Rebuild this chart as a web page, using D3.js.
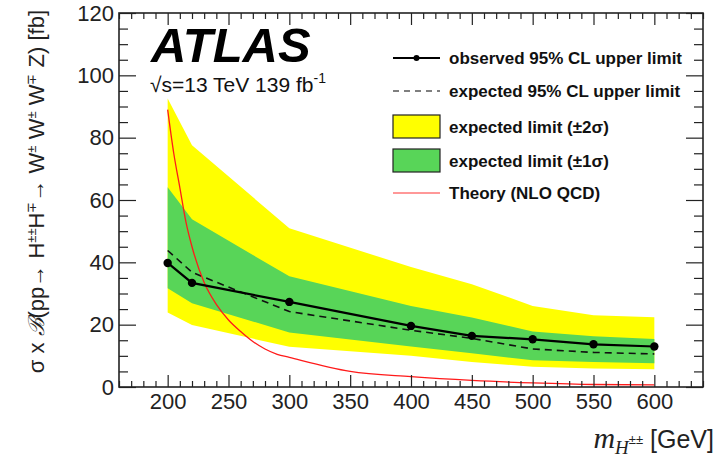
<!DOCTYPE html>
<meta charset="utf-8">
<title>Upper limits on H++ H-- cross section</title>
<style>
body { margin: 0; background: #fff; }
.axis text { font: 22px "Liberation Sans", Arial, sans-serif; fill: #222; }
.axis line, .axis path { stroke: #222; }
.legend text { font: bold 17px "Liberation Sans", Arial, sans-serif; fill: #111; }
.axislabel { font: 22px "Liberation Sans", Arial, sans-serif; fill: #222; }
</style>
<svg class="chart"></svg>
<script src="https://d3js.org/d3.v7.min.js"></script>
<script>

// mass points (GeV)
var masses = [200, 220, 300, 400, 450, 500, 550, 600];
// limits in fb
var observed = [39.8, 33.4, 27.3, 19.6, 16.4, 15.3, 13.7, 13.0];
var expected = [43.8, 36.8, 24.2, 18.2, 15.6, 12.2, 11.1, 10.6];
var minus2 = [23.9, 19.9, 12.9, 10.0, 8.0, 6.5, 5.9, 5.7];
var minus1 = [31.7, 26.9, 17.5, 13.0, 10.8, 8.6, 8.0, 7.6];
var plus1 = [64.1, 53.8, 35.5, 26.0, 22.3, 17.8, 16.3, 15.4];
var plus2 = [92.6, 77.6, 50.9, 38.5, 33.0, 26.0, 23.0, 22.4];
// theory curve
var theoryMass = [200, 205, 210, 215, 220, 230, 240, 250, 260, 270, 280, 290, 300, 350, 400, 450, 500, 550, 600];
var theoryXs = [89, 75, 64, 53, 45, 33.5, 26.5, 21.5, 17.8, 14.6, 12.2, 10.5, 9.5, 5.0, 3.3, 2.1, 1.3, 0.8, 0.7];

var xTicks = [200, 250, 300, 350, 400, 450, 500, 550, 600];
var yTicks = [0, 20, 40, 60, 80, 100, 120];

var margin = {top: 13, right: 22, bottom: 71, left: 119},
    width = 725 - margin.left - margin.right,
    height = 458 - margin.top - margin.bottom;

var svg = d3.select(".chart")
    .attr("width", 725)
    .attr("height", 458);

var chart = svg.append("g")
    .attr("transform", "translate(" + margin.left + "," + margin.top + ")");

var x = d3.scaleLinear().domain([160, 640]).range([0, width]);
var y = d3.scaleLinear().domain([0, 120]).range([height, 0]);

var rows = masses.map(function(m, i) {
  return {m: m, obs: observed[i], exp: expected[i], m2: minus2[i], m1: minus1[i], p1: plus1[i], p2: plus2[i]};
});

var green = "#58d558", yellow = "#ffff00";

chart.append("path")
    .datum(rows)
    .attr("fill", yellow)
    .attr("d", d3.area()
        .x(function(d) { return x(d.m); })
        .y0(function(d) { return y(d.m2); })
        .y1(function(d) { return y(d.p2); }));

chart.append("path")
    .datum(rows)
    .attr("fill", green)
    .attr("d", d3.area()
        .x(function(d) { return x(d.m); })
        .y0(function(d) { return y(d.m1); })
        .y1(function(d) { return y(d.p1); }));

chart.append("path")
    .datum(rows)
    .attr("fill", "none")
    .attr("stroke", "#111")
    .attr("stroke-width", 1.6)
    .attr("stroke-dasharray", "7,5")
    .attr("d", d3.line()
        .x(function(d) { return x(d.m); })
        .y(function(d) { return y(d.exp); }));

chart.append("path")
    .datum(theoryMass)
    .attr("fill", "none")
    .attr("stroke", "#ff1a1a")
    .attr("stroke-width", 1.3)
    .attr("d", d3.line()
        .curve(d3.curveMonotoneX)
        .x(function(d) { return x(d); })
        .y(function(d, i) { return y(theoryXs[i]); }));

chart.append("path")
    .datum(rows)
    .attr("fill", "none")
    .attr("stroke", "#000")
    .attr("stroke-width", 2.2)
    .attr("d", d3.line()
        .x(function(d) { return x(d.m); })
        .y(function(d) { return y(d.obs); }));

chart.selectAll(".obs")
    .data(rows)
    .enter().append("circle")
    .attr("class", "obs")
    .attr("cx", function(d) { return x(d.m); })
    .attr("cy", function(d) { return y(d.obs); })
    .attr("r", 4.2)
    .attr("fill", "#000");

// axes, ROOT style: ticks pointing inwards on all four sides
var xMinor = d3.range(160, 641, 10).filter(function(v) { return v % 50 !== 0; });
var yMinor = d3.range(0, 121, 5).filter(function(v) { return v % 20 !== 0; });

function addAxis(axis, tr) {
  return chart.append("g").attr("class", "axis").attr("transform", tr).call(axis);
}

addAxis(d3.axisBottom(x).tickValues(xMinor).tickSize(-6).tickFormat(""), "translate(0," + height + ")");
addAxis(d3.axisBottom(x).tickValues(xTicks).tickSize(-12).tickPadding(6)
    .tickFormat(d3.format("d")), "translate(0," + height + ")")
    .selectAll("text").attr("dy", "0.72em");
addAxis(d3.axisTop(x).tickValues(xMinor).tickSize(-6).tickFormat(""), "translate(0,0)");
addAxis(d3.axisTop(x).tickValues(xTicks).tickSize(-12).tickFormat(""), "translate(0,0)");

addAxis(d3.axisLeft(y).tickValues(yMinor).tickSize(-9).tickFormat(""), "translate(0,0)");
addAxis(d3.axisLeft(y).tickValues(yTicks).tickSize(-17).tickPadding(5)
    .tickFormat(d3.format("d")), "translate(0,0)");
addAxis(d3.axisRight(y).tickValues(yMinor).tickSize(-9).tickFormat(""), "translate(" + width + ",0)");
addAxis(d3.axisRight(y).tickValues(yTicks).tickSize(-17).tickFormat(""), "translate(" + width + ",0)");

chart.selectAll(".axis path").remove();
chart.selectAll(".axis line").attr("stroke-width", 1.2);

chart.append("rect")
    .attr("width", width)
    .attr("height", height)
    .attr("fill", "none")
    .attr("stroke", "#222")
    .attr("stroke-width", 1.6);

// ATLAS label
svg.append("text")
    .attr("x", 151)
    .attr("y", 62)
    .style("font", "italic bold 49px 'Liberation Sans', Arial, sans-serif")
    .text("ATLAS");

var lumi = svg.append("text")
    .attr("x", 150)
    .attr("y", 92)
    .style("font", "21px 'Liberation Sans', Arial, sans-serif")
    .style("fill", "#111");
lumi.append("tspan").text("√s=13 TeV 139 fb");
lumi.append("tspan").attr("dy", -9).style("font-size", "14px").text("-1");

// legend
var legend = svg.append("g").attr("class", "legend");
var lx1 = 393, lx2 = 440, tx = 449;

legend.append("line").attr("x1", lx1).attr("x2", lx2).attr("y1", 58).attr("y2", 58)
    .attr("stroke", "#000").attr("stroke-width", 1.8);
legend.append("circle").attr("cx", (lx1 + lx2) / 2).attr("cy", 58).attr("r", 3).attr("fill", "#000");
legend.append("text").attr("x", tx).attr("y", 58).attr("dy", "0.36em").text("observed 95% CL upper limit");

legend.append("line").attr("x1", lx1).attr("x2", lx2).attr("y1", 91).attr("y2", 91)
    .attr("stroke", "#000").attr("stroke-width", 1.2).attr("stroke-dasharray", "6,5");
legend.append("text").attr("x", tx).attr("y", 91).attr("dy", "0.36em").text("expected 95% CL upper limit");

legend.append("rect").attr("x", lx1).attr("y", 115).attr("width", lx2 - lx1).attr("height", 23)
    .attr("fill", yellow).attr("stroke", "#222").attr("stroke-width", 1.2);
legend.append("text").attr("x", tx).attr("y", 126.5).attr("dy", "0.36em").text("expected limit (±2σ)");

legend.append("rect").attr("x", lx1).attr("y", 149).attr("width", lx2 - lx1).attr("height", 23)
    .attr("fill", green).attr("stroke", "#222").attr("stroke-width", 1.2);
legend.append("text").attr("x", tx).attr("y", 160.5).attr("dy", "0.36em").text("expected limit (±1σ)");

legend.append("line").attr("x1", lx1).attr("x2", lx2).attr("y1", 193).attr("y2", 193)
    .attr("stroke", "#ff3333").attr("stroke-width", 1.2);
legend.append("text").attr("x", tx).attr("y", 193).attr("dy", "0.36em").text("Theory (NLO QCD)");

// x axis title
var xt = svg.append("text")
    .attr("class", "axislabel")
    .attr("x", 714)
    .attr("y", 448)
    .style("text-anchor", "end");
xt.append("tspan").style("font", "italic 30px 'Liberation Serif', serif").text("m");
xt.append("tspan").attr("dy", 6).style("font", "italic 19px 'Liberation Serif', serif").text("H");
xt.append("tspan").attr("dy", -10).style("font-size", "13px").text("±±");
xt.append("tspan").attr("dy", 4).style("font-size", "25px").text(" [GeV]");

// y axis title: pieces of [text, superscript]
var yTitle = [["σ x ", ""], ["ℬ", ""], ["(pp→ H", "±±"], ["H", "∓"], ["→ W", "±"], [" W", "±"], [" W", "∓"], [" Z)  [fb]", ""]];

var yt = svg.append("text")
    .attr("class", "axislabel")
    .attr("transform", "translate(44,10) rotate(-90)")
    .style("text-anchor", "end");
var shift = 0;
yTitle.forEach(function(p, i) {
  var t = yt.append("tspan").attr("dy", shift).text(p[0]);
  if (i === 1) t.style("font-family", "'DejaVu Serif', serif").style("font-style", "italic");
  shift = 0;
  if (p[1]) {
    yt.append("tspan").attr("dy", -8).style("font-size", "13px").text(p[1]);
    shift = 8;
  }
});

</script>
